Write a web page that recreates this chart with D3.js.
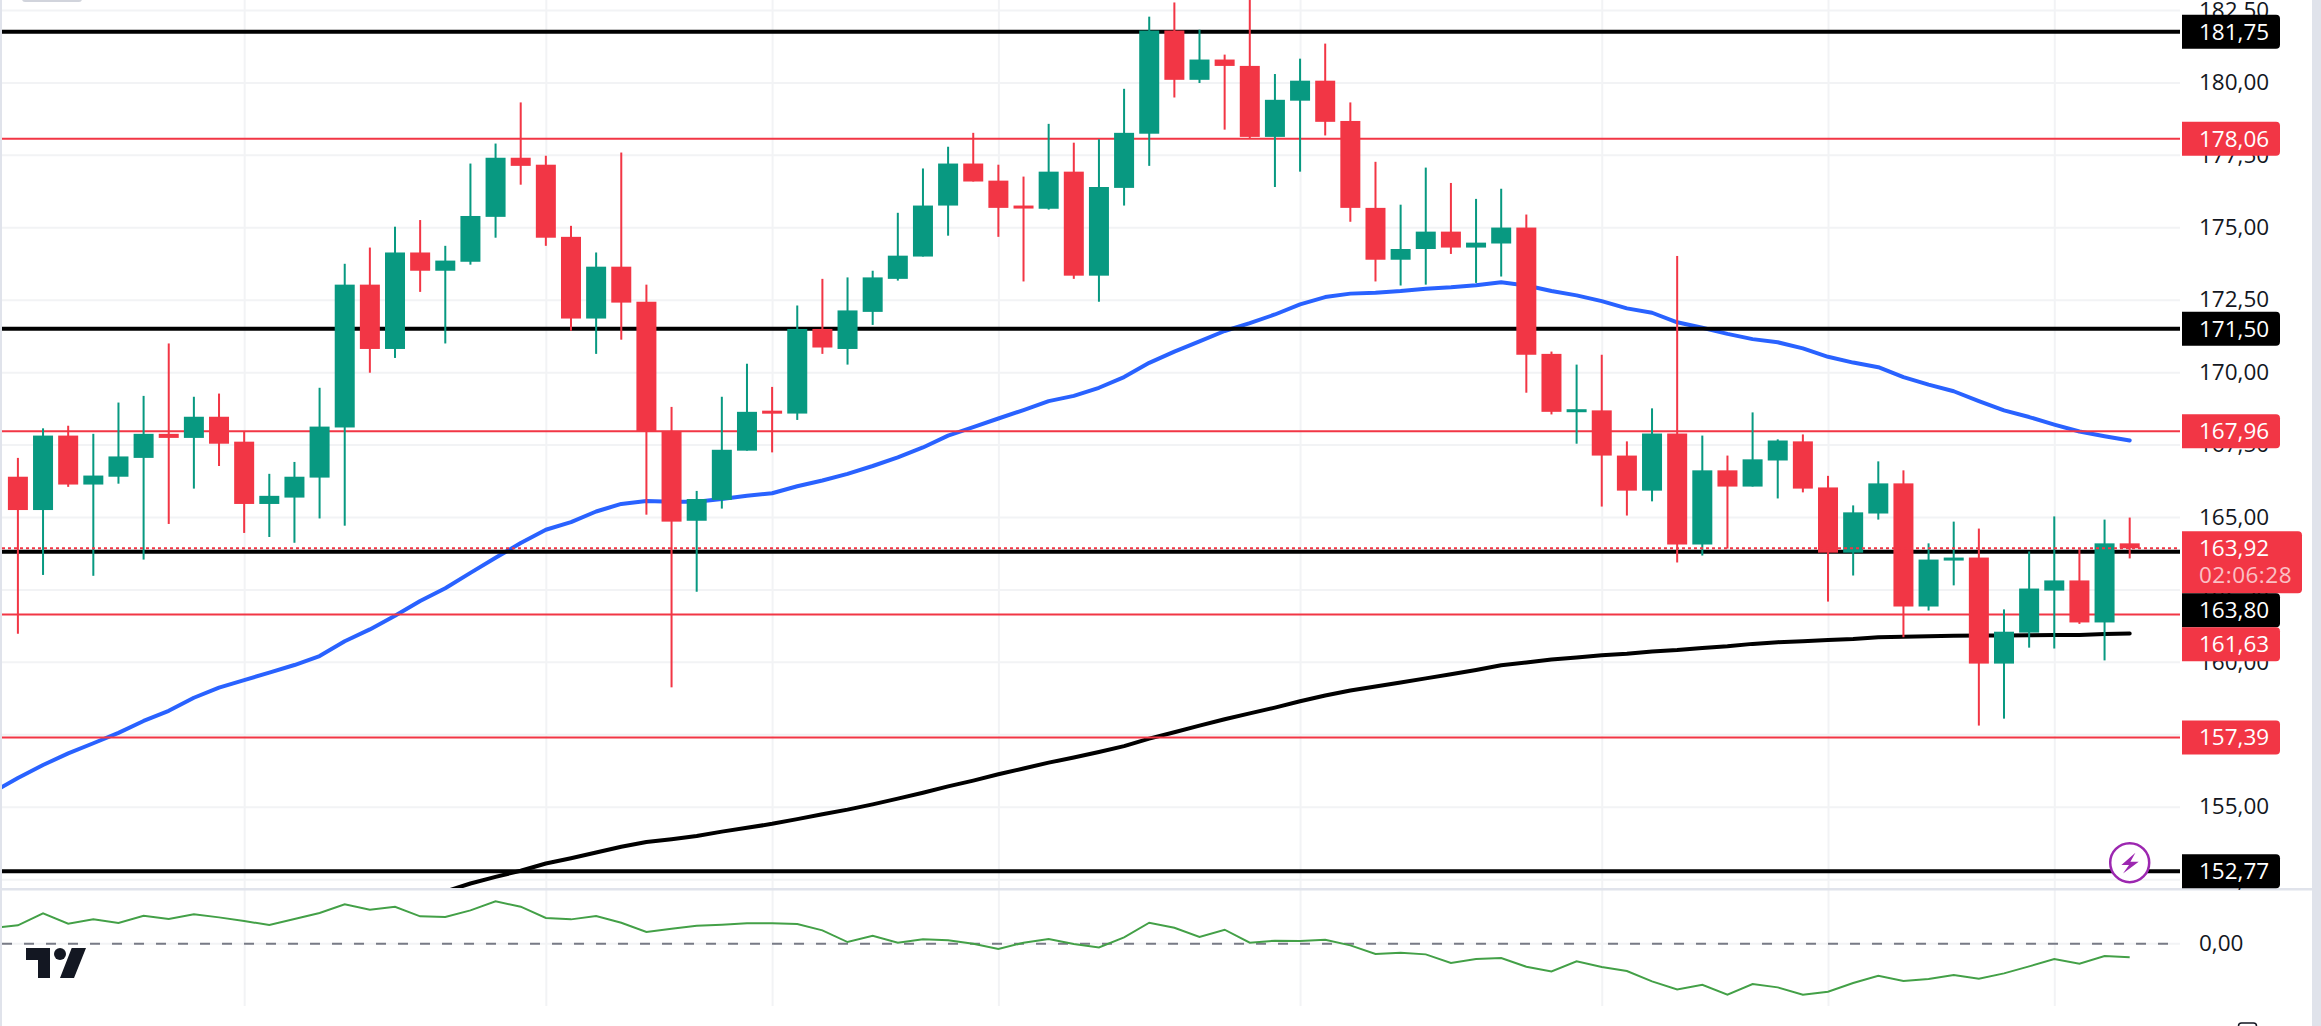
<!DOCTYPE html>
<html>
<head>
<meta charset="utf-8">
<script src="https://cdn.jsdelivr.net/npm/d3@7"></script>
<style>
  body { margin: 0; background: #fff; }
  svg { display: block; }
  text { font-family: "Open Sans", sans-serif; font-size: 22.5px; }
</style>
</head>
<body>
<script>
const [width, height] = [2321, 1026];

// candles, oldest first
const opens = [166.39,165.24,167.81,166.12,166.39,167.04,167.87,167.73,168.46,167.6,165.45,165.67,166.36,168.09,173.02,170.8,174.13,173.5,173.81,175.36,177.4,177.16,174.67,171.85,173.64,172.43,167.97,164.87,165.59,167.29,168.67,168.57,171.49,170.8,172.08,173.22,173.99,175.75,177.2,176.61,175.75,175.64,176.92,173.33,176.36,178.23,181.79,180.09,180.79,180.57,178.12,179.37,180.06,178.67,175.67,173.88,174.25,174.85,174.3,174.44,174.99,170.63,168.64,168.68,167.12,165.91,167.88,164.05,166.61,166.05,166.95,167.61,166.02,163.77,165.12,166.16,161.91,163.5,163.6,159.94,161.01,162.46,162.81,161.36,164.09];
const highs = [167.04,168.06,168.15,167.87,168.95,169.18,170.99,169.15,169.26,167.94,166.49,166.9,169.46,173.74,174.3,175.02,175.25,174.36,177.2,177.89,179.31,177.47,175.05,174.13,177.58,173.02,168.8,165.9,169.15,170.29,169.49,172.3,173.22,173.27,173.5,175.5,177.03,177.78,178.26,177.16,176.75,178.57,177.92,178.04,179.78,182.27,182.76,181.82,180.96,184,180.29,180.82,181.34,179.31,177.26,175.78,177.06,176.53,175.98,176.33,175.44,170.71,170.26,170.6,167.61,168.75,174.01,167.81,167.12,168.61,167.68,167.85,166.42,165.4,166.92,166.61,164.09,164.84,164.6,161.81,163.81,165.02,163.88,164.91,164.98];
const lows = [160.97,163,166.04,162.97,166.15,163.53,164.76,165.98,166.76,164.45,164.31,164.11,164.95,164.7,169.98,170.49,172.77,170.99,173.71,174.64,176.47,174.36,171.43,170.63,171.12,165.08,159.12,162.42,165.29,167.29,167.23,168.35,170.63,170.26,171.63,173.16,173.99,174.71,176.58,174.67,173.13,175.61,173.22,172.43,175.75,177.12,179.48,179.98,178.37,178.06,176.39,176.92,178.17,175.19,173.13,172.99,173.02,174.08,173.08,173.3,169.29,168.54,167.53,165.36,165.05,165.54,163.43,163.67,163.91,166.05,165.64,165.85,162.08,162.98,164.91,160.85,161.77,162.64,157.8,158.04,160.49,160.46,161.31,160.05,163.57];
const closes = [165.24,167.81,166.12,166.43,167.09,167.87,167.73,168.46,167.53,165.45,165.73,166.39,168.12,173.02,170.8,174.13,173.5,173.85,175.39,177.4,177.12,174.64,171.85,173.64,172.4,167.94,164.84,165.62,167.32,168.63,168.61,171.49,170.85,172.13,173.27,174.02,175.75,177.2,176.58,175.67,175.67,176.92,173.33,176.39,178.26,181.79,180.09,180.79,180.57,178.12,179.4,180.06,178.64,175.67,173.88,174.25,174.85,174.3,174.47,174.99,170.6,168.63,168.72,167.12,165.91,167.88,164.05,166.61,166.05,166.99,167.64,165.98,163.77,165.16,166.16,161.91,163.53,163.6,159.94,161.04,162.53,162.81,161.36,164.09,163.92];

// moving averages and the lower study, one value per candle from the given start index
const blueStart = -1;
const blueMa = [155.5,155.99,156.44,156.84,157.19,157.55,157.96,158.31,158.76,159.11,159.37,159.63,159.89,160.2,160.71,161.12,161.59,162.1,162.54,163.07,163.59,164.1,164.56,164.82,165.19,165.45,165.55,165.53,165.53,165.62,165.73,165.82,166.06,166.26,166.49,166.76,167.06,167.4,167.81,168.1,168.4,168.69,169,169.18,169.46,169.83,170.32,170.71,171.06,171.42,171.69,171.99,172.34,172.59,172.71,172.74,172.8,172.88,172.93,173,173.1,172.99,172.8,172.65,172.45,172.2,172.05,171.72,171.53,171.32,171.14,171.03,170.82,170.53,170.33,170.17,169.83,169.57,169.34,169,168.68,168.45,168.19,167.95,167.79,167.64];
const blackStart = 17;
const blackMa = [152.07,152.35,152.58,152.79,153.04,153.22,153.42,153.62,153.78,153.88,153.99,154.14,154.27,154.41,154.57,154.74,154.9,155.08,155.28,155.48,155.7,155.9,156.12,156.32,156.52,156.7,156.89,157.09,157.35,157.57,157.8,158.02,158.22,158.42,158.64,158.84,159.01,159.15,159.29,159.43,159.57,159.72,159.88,159.98,160.08,160.15,160.23,160.28,160.36,160.41,160.48,160.54,160.62,160.68,160.71,160.75,160.79,160.85,160.87,160.88,160.9,160.91,160.91,160.92,160.93,160.93,160.96,160.98];
const oscStart = -1;
const osc = [0.47,0.55,0.91,0.6,0.73,0.62,0.84,0.74,0.88,0.79,0.68,0.56,0.74,0.92,1.18,1.02,1.11,0.82,0.8,1,1.27,1.11,0.77,0.73,0.83,0.63,0.35,0.45,0.54,0.57,0.61,0.61,0.59,0.4,0.05,0.24,0.03,0.13,0.1,0,-0.16,0.03,0.14,-0.01,-0.11,0.19,0.63,0.48,0.2,0.42,0.03,0.09,0.08,0.12,-0.05,-0.31,-0.27,-0.32,-0.58,-0.46,-0.43,-0.69,-0.83,-0.53,-0.7,-0.82,-1.13,-1.37,-1.23,-1.53,-1.21,-1.31,-1.53,-1.44,-1.18,-0.96,-1.12,-1.06,-0.94,-1.05,-0.89,-0.68,-0.46,-0.6,-0.37,-0.41];

const priceTicks = [182.5,180,177.5,175,172.5,170,167.5,165,162.5,160,157.5,155,152.5];
const timeGrid = [9,21,30,39,51,63,72,81];
const blackLevels = [181.75,171.5,163.8,152.77];
const redLevels = [178.06,167.96,161.63,157.39];
const lastPrice = 163.92;
const countdown = '02:06:28';

const RED = '#f23645', GREEN = '#089981', BLUE = '#2962ff';
const GRID = '#f2f3f5', BORDER = '#e0e3eb', INK = '#131722';
const left = 2, right = 2180, paneBottom = 889, studyBottom = 1006;

const fmt = d => d.toFixed(2).replace('.', ',');

const x = d3.scaleLinear().domain([0, 84]).range([17.9, 2129.7]);
const y = d3.scaleLinear().domain([182.5, 155]).range([10, 806.7]);
const yOsc = d3.scaleLinear().domain([1.5, -1.5]).range([893.7, 993.7]);

const svg = d3.select('body')
  .append('svg')
  .attr('width', width)
  .attr('height', height);

svg.append('defs').append('clipPath')
  .attr('id', 'pane')
  .append('rect')
  .attr('x', left)
  .attr('y', 0)
  .attr('width', right - left)
  .attr('height', paneBottom);

// grid
const gridY = svg.append('g')
  .attr('transform', `translate(${right}, 0)`)
  .call(d3.axisLeft(y).tickValues(priceTicks).tickSize(right - left).tickFormat(''));
const gridX = svg.append('g')
  .call(d3.axisBottom(x).tickValues(timeGrid).tickSize(studyBottom).tickFormat(''));
[gridY, gridX].forEach(g => {
  g.select('.domain').remove();
  g.selectAll('line').attr('stroke', GRID).attr('stroke-width', 2);
});
svg.append('line')
  .attr('x1', left).attr('x2', right)
  .attr('y1', yOsc(0)).attr('y2', yOsc(0))
  .attr('stroke', GRID).attr('stroke-width', 2);

const pane = svg.append('g').attr('clip-path', 'url(#pane)');

// moving averages sit under the levels and candles
const maLine = start => d3.line()
  .x((d, i) => x(i + start))
  .y(d => y(d));
pane.append('path')
  .attr('d', maLine(blueStart)(blueMa))
  .attr('fill', 'none')
  .attr('stroke', BLUE)
  .attr('stroke-width', 4)
  .attr('stroke-linejoin', 'round')
  .attr('stroke-linecap', 'round');
pane.append('path')
  .attr('d', maLine(blackStart)(blackMa))
  .attr('fill', 'none')
  .attr('stroke', '#000')
  .attr('stroke-width', 4)
  .attr('stroke-linejoin', 'round')
  .attr('stroke-linecap', 'round');

pane.selectAll('line.black-level')
  .data(blackLevels)
  .enter()
  .append('line')
  .attr('class', 'black-level')
  .attr('x1', left).attr('x2', right)
  .attr('y1', d => y(d)).attr('y2', d => y(d))
  .attr('stroke', '#000')
  .attr('stroke-width', 4);
pane.selectAll('line.red-level')
  .data(redLevels)
  .enter()
  .append('line')
  .attr('class', 'red-level')
  .attr('x1', left).attr('x2', right)
  .attr('y1', d => y(d)).attr('y2', d => y(d))
  .attr('stroke', RED)
  .attr('stroke-width', 2);

// candles
const candles = pane.selectAll('g.candle')
  .data(opens.map((o, i) => ({ i, o, h: highs[i], l: lows[i], c: closes[i] })))
  .enter()
  .append('g')
  .attr('class', 'candle')
  .attr('fill', d => d.c >= d.o ? GREEN : RED);
candles.append('rect')
  .attr('x', d => x(d.i) - 1)
  .attr('width', 2)
  .attr('y', d => y(d.h))
  .attr('height', d => y(d.l) - y(d.h));
candles.append('rect')
  .attr('x', d => x(d.i) - 10)
  .attr('width', 20)
  .attr('y', d => y(Math.max(d.o, d.c)))
  .attr('height', d => Math.max(3, y(Math.min(d.o, d.c)) - y(Math.max(d.o, d.c))));

// last price dotted line goes over the candles
pane.append('line')
  .attr('x1', left).attr('x2', right)
  .attr('y1', y(lastPrice)).attr('y2', y(lastPrice))
  .attr('stroke', RED)
  .attr('stroke-width', 2)
  .attr('stroke-dasharray', '3 3');

// lightning badge on the last candle
const badge = svg.append('g')
  .attr('transform', `translate(${x(84)}, 862.7)`);
badge.append('circle')
  .attr('r', 19.5)
  .attr('fill', '#fff')
  .attr('stroke', '#9c27b0')
  .attr('stroke-width', 2.5);
badge.append('path')
  .attr('d', 'M5.7,-10 L-8.3,2.3 L-0.7,2.3 L-6.7,10.7 L9,-1 L0.7,-1 Z')
  .attr('fill', '#9c27b0');

// lower study
svg.append('line')
  .attr('x1', left).attr('x2', right)
  .attr('y1', yOsc(0)).attr('y2', yOsc(0))
  .attr('stroke', '#787b86')
  .attr('stroke-width', 2)
  .attr('stroke-dasharray', '10 12');
svg.append('path')
  .attr('d', d3.line().x((d, i) => x(i + oscStart)).y(d => yOsc(d))(osc))
  .attr('fill', 'none')
  .attr('stroke', '#43a047')
  .attr('stroke-width', 2)
  .attr('clip-path', 'url(#study)');
svg.select('defs').append('clipPath')
  .attr('id', 'study')
  .append('rect')
  .attr('x', left)
  .attr('y', paneBottom)
  .attr('width', right - left)
  .attr('height', studyBottom - paneBottom);

// tradingview mark
svg.append('path')
  .attr('d', 'M26,948 H50 V978 H38 V960 H26 Z M71.7,948 H86 L74,978 H60 Z')
  .attr('fill', INK);
svg.append('circle')
  .attr('cx', 60).attr('cy', 954).attr('r', 6)
  .attr('fill', INK);

// window chrome
svg.append('rect').attr('x', 0).attr('y', 0).attr('width', left).attr('height', height).attr('fill', BORDER);
svg.append('rect').attr('x', 2312).attr('y', 0).attr('width', width - 2312).attr('height', height).attr('fill', BORDER);
svg.append('rect').attr('x', left).attr('y', paneBottom - 1).attr('width', 2312 - left).attr('height', 2.5).attr('fill', BORDER);
svg.append('rect').attr('x', 22).attr('y', -4).attr('width', 60).attr('height', 6).attr('rx', 3).attr('fill', '#d1d4dc');
svg.append('rect')
  .attr('x', 2238.5).attr('y', 1023).attr('width', 18).attr('height', 10).attr('rx', 3)
  .attr('fill', 'none').attr('stroke', INK).attr('stroke-width', 1.5);

// price axis labels
const axisY = svg.append('g')
  .attr('transform', `translate(${right}, 0)`)
  .call(d3.axisRight(y).tickValues(priceTicks).tickSize(0).tickPadding(19).tickFormat(fmt));
axisY.select('.domain').remove();
axisY.selectAll('text').attr('fill', INK).style('font-size', '22.5px').style('font-family', '"Open Sans", sans-serif');
const axisOsc = svg.append('g')
  .attr('transform', `translate(${right}, 0)`)
  .call(d3.axisRight(yOsc).tickValues([0]).tickSize(0).tickPadding(19).tickFormat(fmt));
axisOsc.select('.domain').remove();
axisOsc.selectAll('text').attr('fill', INK).style('font-size', '22.5px').style('font-family', '"Open Sans", sans-serif');

// price labels, pushed down when they would overlap the one above
const labels = [
  ...blackLevels.map(v => ({ v, color: '#000', h: 34, w: 98 })),
  ...redLevels.map(v => ({ v, color: RED, h: 34, w: 98 })),
  { v: lastPrice, color: RED, h: 62, w: 120, last: true }
].sort((a, b) => b.v - a.v);

let bottom = -Infinity;
labels.forEach(d => {
  d.top = Math.max(y(d.v) - 17, bottom);
  bottom = d.top + d.h;
});

const pillPath = d => {
  const r = 4, x0 = right + 2, x1 = x0 + d.w;
  return `M${x0},${d.top} H${x1 - r} Q${x1},${d.top} ${x1},${d.top + r} V${d.top + d.h - r} Q${x1},${d.top + d.h} ${x1 - r},${d.top + d.h} H${x0} Z`;
};

const pills = svg.selectAll('g.pill')
  .data(labels)
  .enter()
  .append('g')
  .attr('class', 'pill');
pills.append('path')
  .attr('d', pillPath)
  .attr('fill', d => d.color);
pills.append('text')
  .attr('x', right + 19)
  .attr('y', d => d.top + 17)
  .attr('dy', '.35em')
  .attr('fill', '#fff')
  .attr('font-weight', 500)
  .style('font-weight', 500)
  .text(d => fmt(d.v));
pills.filter(d => d.last)
  .append('text')
  .attr('x', right + 19)
  .attr('y', d => d.top + 44)
  .attr('dy', '.35em')
  .attr('fill', '#fff')
  .attr('fill-opacity', 0.7)
  .style('letter-spacing', '0.5px')
  .text(countdown);
</script>
</body>
</html>
